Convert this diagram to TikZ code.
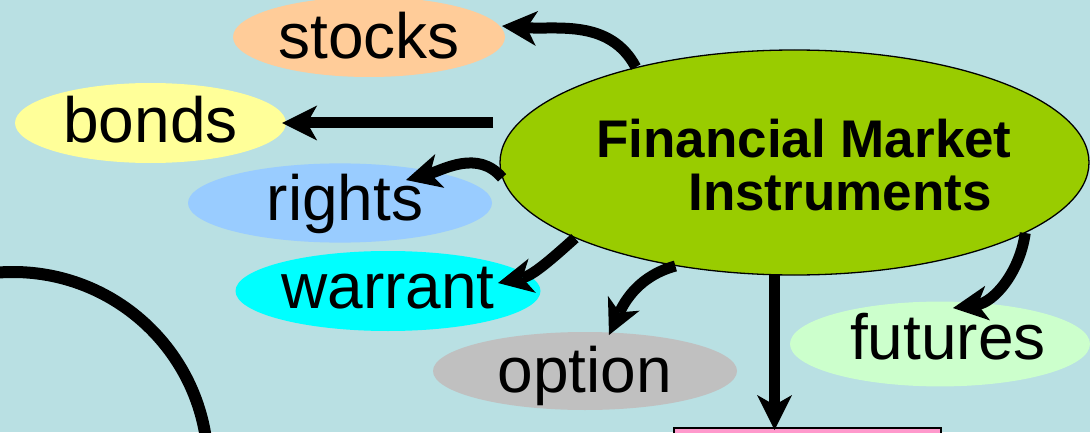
\documentclass[tikz,border=0pt]{standalone}
\usepackage{fontspec}
\setmainfont{Liberation Sans}
\usetikzlibrary{shapes.geometric,arrows.meta,calc}

\definecolor{bgblue}{RGB}{185,224,227}
\definecolor{fmigreen}{HTML}{99CC00}
\definecolor{stockc}{HTML}{FFCC99}
\definecolor{bondc}{HTML}{FFFF99}
\definecolor{rightc}{HTML}{99CCFF}
\definecolor{warrantc}{HTML}{00FFFF}
\definecolor{optionc}{HTML}{C0C0C0}
\definecolor{futurec}{HTML}{CCFFCC}
\definecolor{pinkc}{HTML}{FF99CC}

\tikzset{
  item/.style={ellipse, inner sep=0pt, draw=none,
    font=\fontsize{64}{70}\selectfont, text height=45pt, text depth=7pt},
  bigarrow/.style={line width=11pt,
    -{Stealth[length=35pt,width=35pt,inset=10pt,line width=0pt]}},
  titletext/.style={anchor=base, inner sep=0pt,
    font=\fontsize{53}{60}\selectfont\bfseries}
}

\begin{document}
\begin{tikzpicture}[x=1pt,y=1pt]
  \useasboundingbox (0,0) rectangle (1090,432);
  \clip (0,0) rectangle (1090,432);
  \fill[bgblue] (0,0) rectangle (1090,432);

  % large arc in the lower left corner
  \draw[line width=12pt] (13,-35) circle[radius=195pt];

  % box at the bottom, cut by the frame
  \node[draw=black, line width=1.5pt, fill=pinkc, minimum width=267pt,
        minimum height=60pt, anchor=north west, inner sep=0pt] (market) at (673,5) {};

  % instrument ellipses
  \node[item, fill=stockc,   text depth=1pt,  minimum width=272pt, minimum height=80pt] (stocks)  at (369,395)   {stocks};
  \node[item, fill=bondc,    text depth=5pt,  minimum width=271pt, minimum height=80pt] (bonds)   at (150.5,309) {bonds};
  \node[item, fill=rightc,   text depth=11pt, minimum width=304pt, minimum height=79pt] (rights)  at (340,229)   {\hspace*{10pt}rights};
  \node[item, fill=warrantc, text depth=11pt, minimum width=305pt, minimum height=80pt] (warrant) at (388,141)   {warrant};
  \node[item, fill=optionc,  text depth=3pt,  minimum width=304pt, minimum height=78pt] (option)  at (585,61)    {option};
  \node[item, fill=futurec,  text depth=15pt, minimum width=300pt, minimum height=78pt] (futures) at (940,88)    {\hspace*{16pt}futures};

  % central ellipse
  \node[ellipse, draw=black, line width=1.3pt, fill=fmigreen, inner sep=0pt,
        minimum width=589pt, minimum height=225pt] (fmi) at (794.5,269.5) {};
  \node[titletext] (fmione) at (804,275) {Financial Market};
  \node[titletext] (fmitwo) at (840,222) {Instruments};

  % connectors
  \draw[bigarrow] (fmi.149.5) to[out=118, in=-4] ($(stocks.center)+(133,11)$);
  \draw[bigarrow, shorten <=6pt, shorten >=-4pt] (fmi.west |- bonds.east) -- (bonds.east);
  \draw[bigarrow] (fmi.183) to[out=130, in=15] ($(rights.center)+(66,23)$);
  \draw[bigarrow] (fmi.199) to[out=222, in=12] ($(warrant.center)+(110,8)$);
  \draw[bigarrow] (fmi.221) to[out=195, in=65] ($(option.center)+(24,36)$);
  \draw[bigarrow, shorten >=-3pt] (fmi.260) -- (fmi.260 |- market.north);
  \draw[bigarrow] (fmi.343.5) to[out=262, in=8] ($(futures.center)+(13,36)$);
\end{tikzpicture}
\end{document}
